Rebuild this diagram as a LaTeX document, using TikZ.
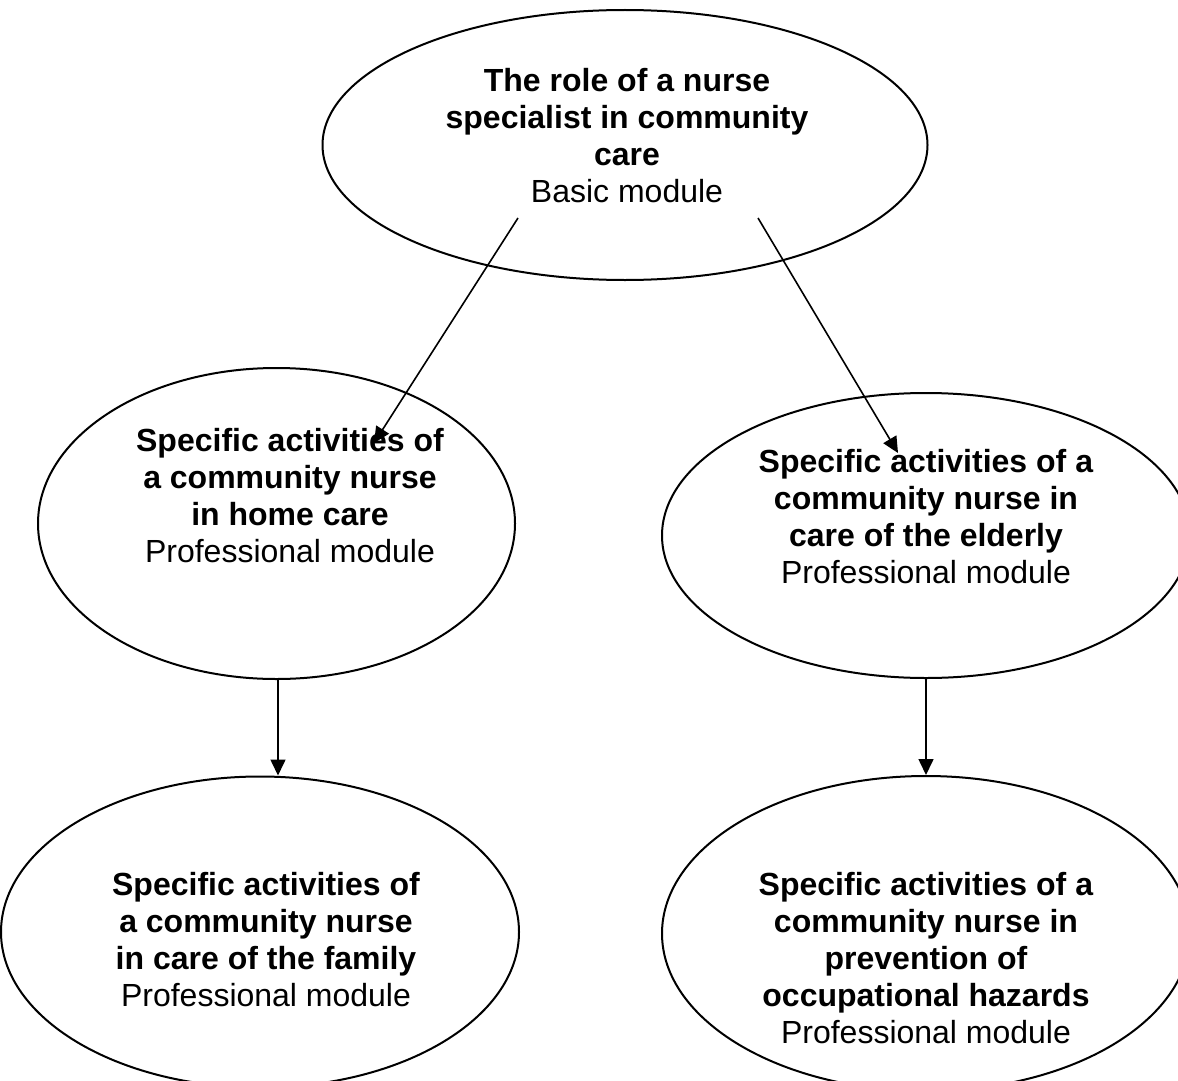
\documentclass[tikz,border=0pt]{standalone}
\usepackage{fontspec}
\setmainfont{Liberation Sans}
\usetikzlibrary{arrows.meta,shapes.geometric}
\begin{document}
\begin{tikzpicture}[x=1pt,y=-1pt,
  oval/.style={draw,ellipse,line width=2pt,inner sep=0pt},
  lbl/.style={align=center,inner sep=0pt,font=\fontsize{32}{37}\selectfont},
  conn/.style={line width=1.6pt,-{Triangle[length=16pt,width=15pt]}}]
\useasboundingbox (0,0) rectangle (1178,1081);
\clip (0,0) rectangle (1178,1081);
\fill[white] (0,0) rectangle (1178,1081);
% ellipses
\node[oval,minimum width=605pt,minimum height=270pt] (top) at (625,145) {};
\node[oval,minimum width=477pt,minimum height=311pt] (midL) at (276.5,523.5) {};
\node[oval,minimum width=528pt,minimum height=285pt] (midR) at (926,535.5) {};
\node[oval,minimum width=518pt,minimum height=311pt] (botL) at (260,932) {};
\node[oval,minimum width=528pt,minimum height=315pt] (botR) at (926,933.5) {};
% texts
\node[lbl] (topT) at (627,136) {\textbf{The role of a nurse}\\\textbf{specialist in community}\\\textbf{care}\\Basic module};
\node[lbl] (midLT) at (290,496) {\textbf{Specific activities of}\\\textbf{a community nurse}\\\textbf{in home care}\\Professional module};
\node[lbl] (midRT) at (926,517) {\textbf{Specific activities of a}\\\textbf{community nurse in}\\\textbf{care of the elderly}\\Professional module};
\node[lbl] (botLT) at (266,940) {\textbf{Specific activities of}\\\textbf{a community nurse}\\\textbf{in care of the family}\\Professional module};
\node[lbl] (botRT) at (926,958) {\textbf{Specific activities of a}\\\textbf{community nurse in}\\\textbf{prevention of}\\\textbf{occupational hazards}\\Professional module};
% connectors
\draw[conn] ([shift={(-107,73)}]top.center) -- ([shift={(97.5,-80.5)}]midL.center);
\draw[conn] ([shift={(133,73)}]top.center) -- ([shift={(-28,-82.5)}]midR.center);
\draw[conn] ([xshift=1.5pt]midL.south) -- ([xshift=1.5pt]midL.south |- botL.north);
\draw[conn] (midR.south) -- (midR.south |- botR.north);
\end{tikzpicture}
\end{document}
